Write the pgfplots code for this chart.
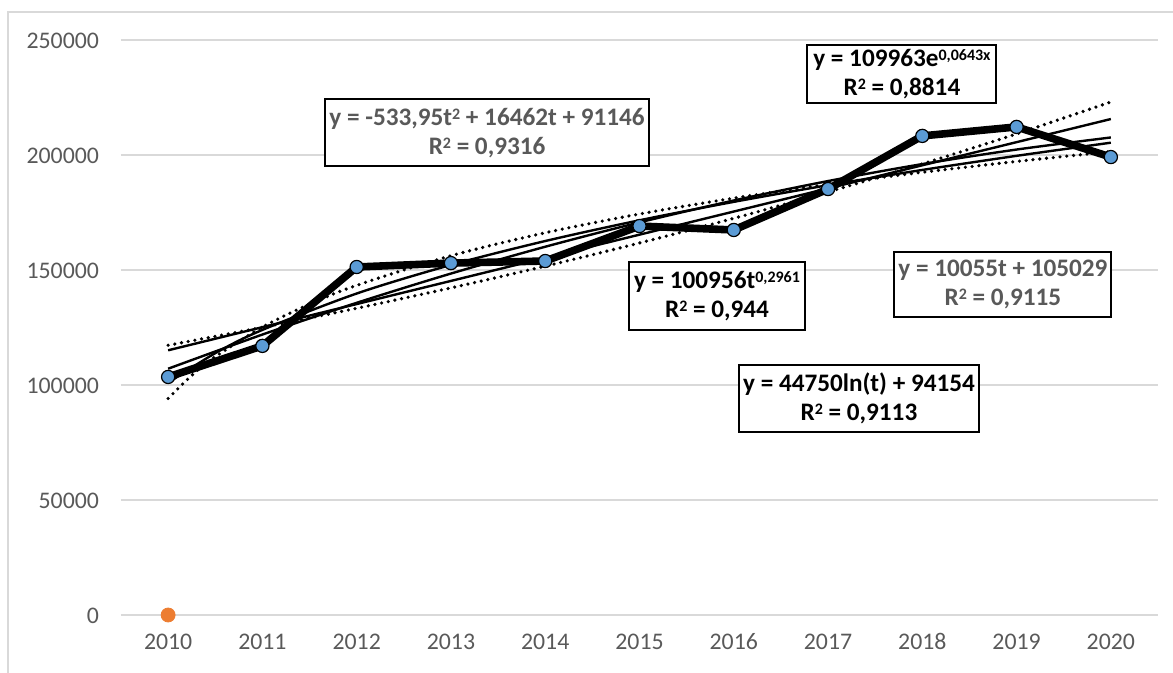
\documentclass[border=0pt]{standalone}
\usepackage{pgfplots}
\pgfplotsset{compat=1.18}
\usepackage{fontspec}
\setmainfont{Carlito}
\definecolor{txtgrey}{HTML}{595959}
\definecolor{gridgrey}{HTML}{D9D9D9}
\definecolor{ptblue}{HTML}{5B9BD5}
\definecolor{ptorange}{HTML}{ED7D31}

% main series, x = 0..10 stands for 2010..2020
\pgfplotstableread{
x y
0 103500
1 117000
2 151300
3 153000
4 153900
5 169100
6 167400
7 185200
8 208300
9 212200
10 199100
}\sales

% trendlines, values at t = x+1 from the equations on the chart
\pgfplotstableread{
x y
0 115084
10 215634
}\linfit
\pgfplotstableread{
x y
0 107074
1 121934
2 135726
3 148451
4 160107
5 170696
6 180216
7 188669
8 196054
9 202371
10 207620
}\polyfit
\pgfplotstableread{
x y
0 100956
0.5 113835
1 123956
2 139767
3 152196
4 162591
5 171610
6 179624
7 186867
8 193498
9 199635
10 205347
}\powfit
\pgfplotstableread{
x y
0 94154
0.25 104140
0.5 112299
1 125172
1.5 135158
2 143317
3 156191
4 166176
5 174335
6 181234
7 187209
8 192480
9 197195
10 201460
}\logfit
\pgfplotstableread{
x y
0 117266
1 125054
2 133359
3 142216
4 151661
5 161733
6 172474
7 183928
8 196143
9 209170
10 223060
}\expfit

\newcommand{\sq}[1]{\raisebox{0.45ex}{\fontsize{8}{8}\selectfont #1}}

\begin{document}
\begin{tikzpicture}[
  eqbox/.style={draw=black, line width=1pt, fill=white, align=center,
    font=\fontsize{12.6}{14.5}\selectfont\bfseries, inner sep=2pt}]
\begin{axis}[
  name=ax,
  scale only axis,
  width=518.5pt, height=287.5pt,
  xmin=-0.5, xmax=10.5,
  ymin=0, ymax=250000,
  xtick={0,...,10},
  xticklabels={2010,2011,2012,2013,2014,2015,2016,2017,2018,2019,2020},
  ytick={0,50000,100000,150000,200000,250000},
  scaled y ticks=false,
  /pgf/number format/fixed,
  /pgf/number format/set thousands separator={},
  /pgf/number format/assume math mode=true,
  ticklabel style={font=\fontsize{11.9}{14}\selectfont, text=txtgrey,
    text height=8.5pt, text depth=0pt},
  yticklabel style={xshift=-7.5pt},
  xticklabel style={yshift=-5pt},
  major tick length=0pt,
  axis x line*=bottom,
  axis y line*=left,
  axis line style={draw=none},
  ymajorgrids,
  grid style={gridgrey, line width=0.6pt},
  clip=false,
]
% orange point at zero
\addplot[only marks, mark=*, mark size=3.5pt, ptorange, mark options={draw=none}]
  coordinates {(0,0)};
% data series
\addplot[black, line width=3.8pt, line join=round, mark=*, mark size=3.3pt,
  mark options={fill=ptblue, draw=black, line width=0.6pt}] table {\sales};
% trendlines
\addplot[black, line width=1.2pt] table {\linfit};
\addplot[black, line width=1.2pt, smooth] table {\polyfit};
\addplot[black, line width=1.2pt, smooth] table {\powfit};
\addplot[black, line width=1.8pt, line cap=round, dash pattern=on 0pt off 3.4pt, smooth] table {\logfit};
\addplot[black, line width=1.8pt, line cap=round, dash pattern=on 0pt off 3.4pt, smooth] table {\expfit};

% equation boxes
\node[eqbox, text=txtgrey, minimum width=160pt, minimum height=33.5pt]
  at (axis cs:3.383,209600) {y = -533,95t\sq{2} + 16462t + 91146\\R\sq{2} = 0,9316};
\node[eqbox, minimum width=94.5pt, minimum height=29pt]
  at (axis cs:7.784,235200) {y = 109963e\sq{0,0643x}\\R\sq{2} = 0,8814};
\node[eqbox, minimum width=88pt, minimum height=34pt]
  at (axis cs:5.822,138700) {y = 100956t\sq{0,2961}\\R\sq{2} = 0,944};
\node[eqbox, text=txtgrey, minimum width=106.5pt, minimum height=32.5pt]
  at (axis cs:8.855,143900) {y = 10055t + 105029\\R\sq{2} = 0,9115};
\node[eqbox, minimum width=117.5pt, minimum height=33.5pt]
  at (axis cs:7.328,94300) {y = 44750ln(t) + 94154\\R\sq{2} = 0,9113};
\end{axis}
% page frame and chart border
\path[use as bounding box] ([shift={(-60.5pt,-29pt)}]ax.south west) rectangle ++(586.5pt,336.5pt);
\draw[gridgrey, line width=1pt] ([shift={(-56.5pt,-29pt)}]ax.south west) -- ++(0,330.5pt) -- ++(582.5pt,0);
\end{tikzpicture}
\end{document}
